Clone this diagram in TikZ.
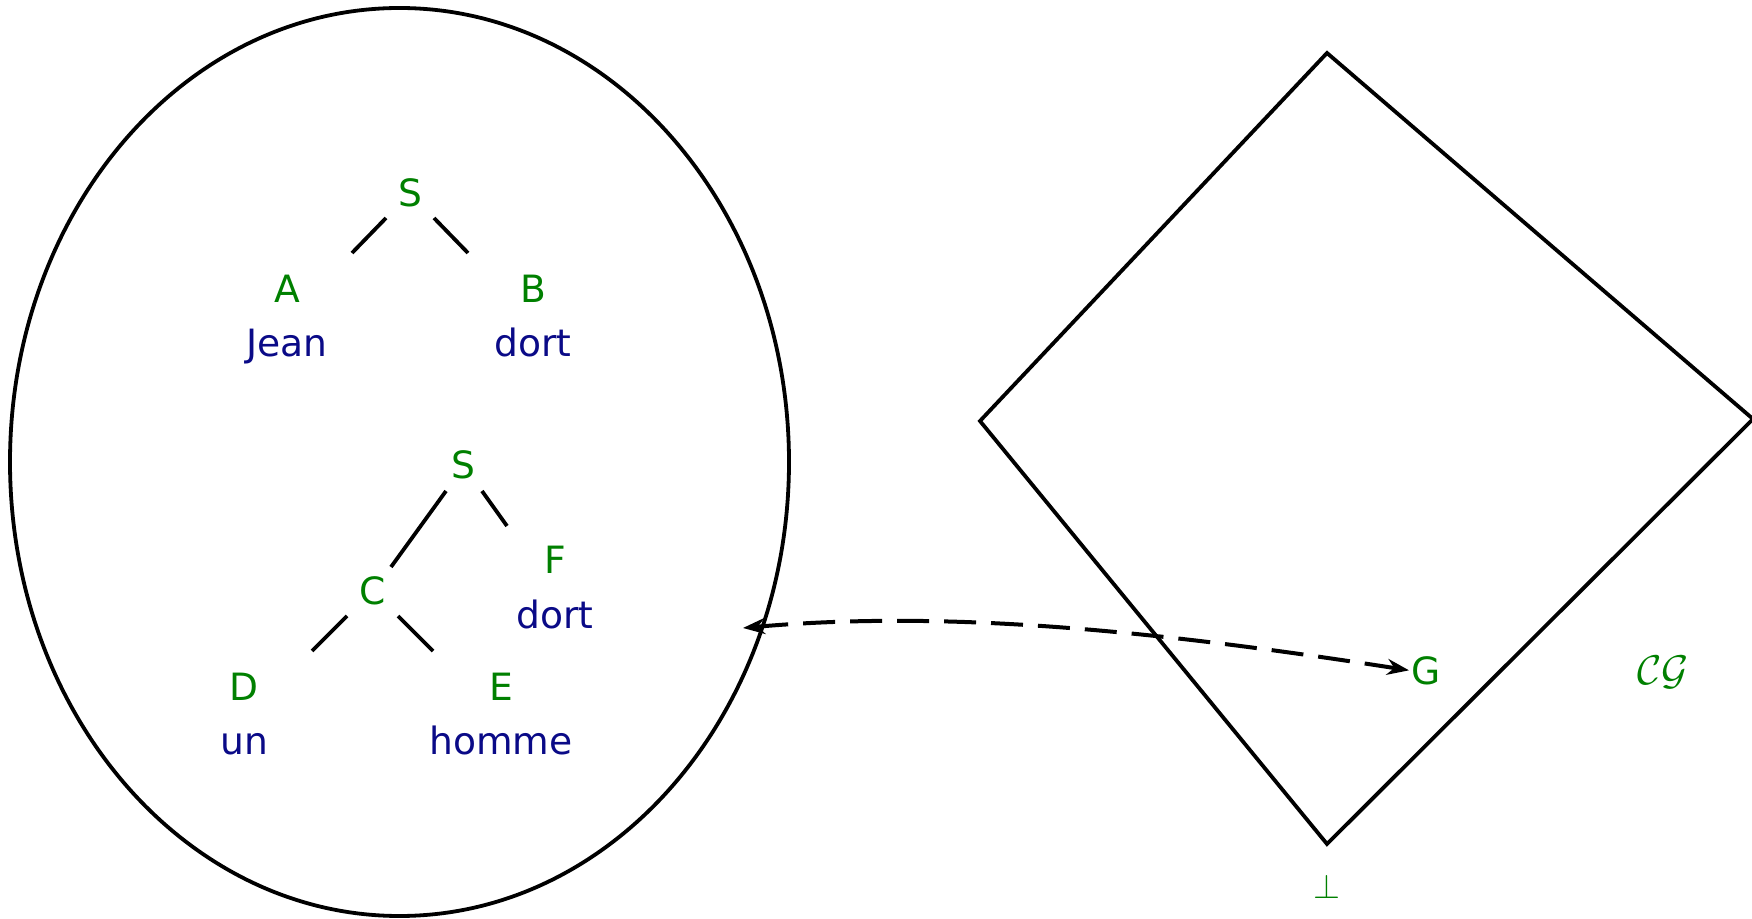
\documentclass[tikz,border=0pt]{standalone}
\usepackage{fontspec}
\setmainfont{DejaVu Sans}
\usetikzlibrary{arrows.meta}
\definecolor{lblgreen}{RGB}{0,128,0}
\definecolor{lblblue}{RGB}{10,10,135}
\tikzset{
  cat/.style={text=lblgreen, anchor=base, inner sep=1pt, font=\fontsize{18.8}{21}\selectfont},
  word/.style={text=lblblue, anchor=base, inner sep=1pt, font=\fontsize{18.8}{21}\selectfont},
  branch/.style={line width=1.9pt},
  frame/.style={line width=1.9pt, line join=miter},
  link/.style={line width=2pt, dash pattern=on 16pt off 7.5pt, {Stealth[length=11pt,width=8pt]}-{Stealth[length=11pt,width=8pt]}},
}
\begin{document}
\begin{tikzpicture}[x=0.5pt, y=-0.5pt]
\useasboundingbox (0,0) rectangle (1752,919);
% ellipse
\draw[frame] (399.5,462) ellipse [x radius=194.75pt, y radius=227pt];
% tree 1
\node[cat] (s1) at (410,207) {S};
\node[cat] (a) at (287,303) {A};
\node[word] (jean) at (287,357) {Jean};
\node[cat] (b) at (533,303) {B};
\node[word] (dort1) at (533,357) {dort};
\coordinate (s1a0) at (386,218); \coordinate (s1a1) at (352,253);
\coordinate (s1b0) at (434,218); \coordinate (s1b1) at (468,253);
\draw[branch] (s1a0) -- (s1a1);
\draw[branch] (s1b0) -- (s1b1);
% tree 2
\node[cat] (s2) at (463,479) {S};
\node[cat] (c) at (373,604) {C};
\node[cat] (f) at (555,574) {F};
\node[word] (dort2) at (555,629) {dort};
\node[cat] (d) at (244,700) {D};
\node[word] (un) at (244,754) {un};
\node[cat] (e) at (501,700) {E};
\node[word] (homme) at (501,754) {homme};
\coordinate (sc0) at (446,491); \coordinate (sc1) at (391,567);
\coordinate (sf0) at (482,491); \coordinate (sf1) at (507,526);
\coordinate (cd0) at (347,616); \coordinate (cd1) at (312,651);
\coordinate (ce0) at (398,616); \coordinate (ce1) at (433,651);
\draw[branch] (sc0) -- (sc1);
\draw[branch] (sf0) -- (sf1);
\draw[branch] (cd0) -- (cd1);
\draw[branch] (ce0) -- (ce1);
% diamond
\coordinate (top) at (1327,53);
\coordinate (left) at (980,421);
\coordinate (bottom) at (1327,844);
\coordinate (right) at (1753,419);
\draw[frame] (top) -- (left) -- (bottom) -- (right) -- cycle;
% labels
\node[cat] (g) at (1426,684) {G};
\node[cat, font=\fontsize{20.5}{23}\selectfont] (cg) at (1663,684) {$\mathcal{CG}$};
\node[cat] (bot) at (1327,898) {$\bot$};
% arrow
\coordinate (ep) at (743,628);
\draw[link] (ep) .. controls (945,610) and (1150,630) .. (g.west);
\end{tikzpicture}
\end{document}
